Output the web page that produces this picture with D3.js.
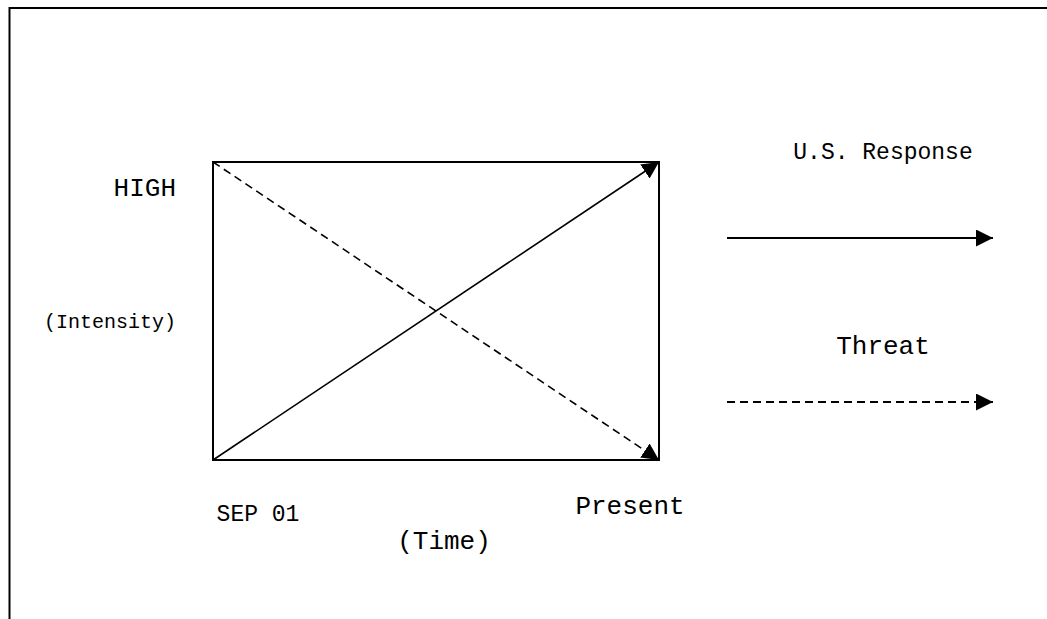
<!DOCTYPE html>
<html>
<head>
<meta charset="utf-8">
<script src="https://cdn.jsdelivr.net/npm/d3@7"></script>
<style>
  html, body { margin: 0; padding: 0; background: #fff; }
  text { font-family: "Liberation Mono", "Courier New", monospace; fill: #000; }
</style>
</head>
<body>
<div id="chart"></div>
<script>
// time categories (x ends) and intensity level label
var time_labels = ["SEP 01", "Present"];
var level_labels = ["HIGH"];
// each series goes from the start of time to the present
var series_names = ["U.S. Response", "Threat"];
var series_values = [[0, 1], [1, 0]];   // intensity at SEP 01, at Present
var series_dashed = [false, true];

var width = 1047, height = 619;
var svg = d3.select("#chart").append("svg").attr("width", width).attr("height", height);

// marker for arrowheads
svg.append("defs").append("marker")
    .attr("id", "head")
    .attr("viewBox", "0 0 10 10")
    .attr("refX", 10).attr("refY", 5)
    .attr("markerUnits", "userSpaceOnUse")
    .attr("markerWidth", 17).attr("markerHeight", 17)
    .attr("orient", "auto")
  .append("path")
    .attr("d", "M0,0L10,5L0,10Z")
    .attr("fill", "#000");

// outer frame (top and left only)
svg.append("path")
    .attr("d", "M9.5,619V8H1047")
    .attr("fill", "none").attr("stroke", "#000").attr("stroke-width", 2);

var x = d3.scaleLinear().domain([0, 1]).range([213, 659]);
var y = d3.scaleLinear().domain([0, 1]).range([460, 162]);

var g = svg.append("g");

g.append("rect")
    .attr("x", x(0)).attr("y", y(1))
    .attr("width", x(1) - x(0)).attr("height", y(0) - y(1))
    .attr("fill", "none").attr("stroke", "#000").attr("stroke-width", 2);

var line = d3.line().x((d, i) => x(i)).y(d => y(d));

g.selectAll("path.series")
    .data(series_values)
    .enter().append("path")
    .attr("class", "series")
    .attr("d", d => line(d))
    .attr("fill", "none")
    .attr("stroke", "#000")
    .attr("stroke-width", 1.6)
    .attr("stroke-dasharray", (d, i) => series_dashed[i] ? "8,5" : null)
    .attr("marker-end", "url(#head)");

// axis labels
g.append("text").attr("x", 176).attr("y", 196).attr("text-anchor", "end")
    .attr("font-size", 26).text(level_labels[0]);
g.append("text").attr("x", 176).attr("y", 328).attr("text-anchor", "end")
    .attr("font-size", 20).text("(Intensity)");

g.selectAll("text.time")
    .data(time_labels)
    .enter().append("text")
    .attr("class", "time")
    .attr("x", (d, i) => i == 0 ? x(0) + 45 : x(1) - 29)
    .attr("y", (d, i) => i == 0 ? 521 : 514)
    .attr("text-anchor", "middle")
    .attr("font-size", (d, i) => i == 0 ? 23 : 26)
    .text(d => d);
g.append("text").attr("x", 444).attr("y", 549).attr("text-anchor", "middle")
    .attr("font-size", 26).text("(Time)");

// legend
var legend_y = [238, 402];
var legend_text_y = [159, 354];
var lg = svg.append("g");
lg.selectAll("line")
    .data(series_names)
    .enter().append("line")
    .attr("x1", 727).attr("x2", 993)
    .attr("y1", (d, i) => legend_y[i]).attr("y2", (d, i) => legend_y[i])
    .attr("stroke", "#000").attr("stroke-width", 2)
    .attr("stroke-dasharray", (d, i) => series_dashed[i] ? "8,5" : null)
    .attr("marker-end", "url(#head)");
lg.selectAll("text")
    .data(series_names)
    .enter().append("text")
    .attr("x", 883)
    .attr("y", (d, i) => legend_text_y[i])
    .attr("text-anchor", "middle")
    .attr("font-size", (d, i) => i == 0 ? 23 : 26)
    .text(d => d);
</script>
</body>
</html>
